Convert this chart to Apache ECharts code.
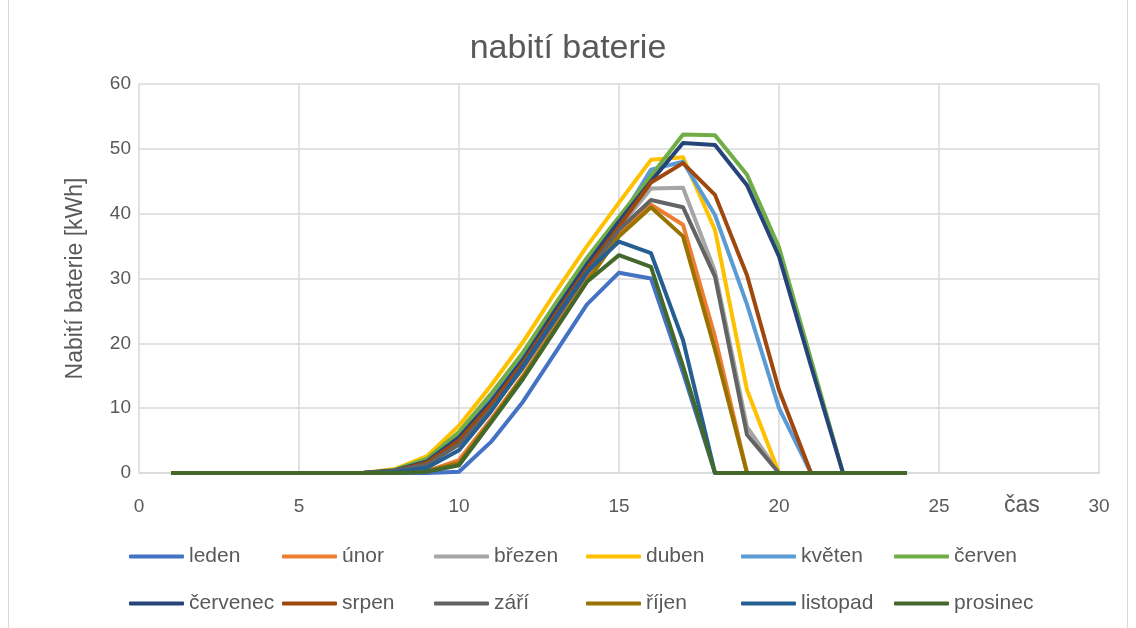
<!DOCTYPE html>
<html>
<head>
<meta charset="utf-8">
<script src="https://cdn.jsdelivr.net/npm/echarts@6/dist/echarts.min.js"></script>
<style>
  html, body { margin: 0; padding: 0; background: #ffffff; }
  #chart { width: 1136px; height: 628px; }
</style>
</head>
<body>
<div id="chart"></div>
<script>
// Hours of the day (x values)
const hours = [1,2,3,4,5,6,7,8,9,10,11,12,13,14,15,16,17,18,19,20,21,22,23,24];

// Battery charge per hour [kWh], one array per month
const leden     = [0,0,0,0,0,0,0,0,0,0.2,4.8,11,18.5,26,30.9,30,15.5,0,0,0,0,0,0,0];
const unor      = [0,0,0,0,0,0,0,0.1,0.3,2,8.3,15,22.5,30,37,41.4,38.3,21,0,0,0,0,0,0];
const brezen    = [0,0,0,0,0,0,0,0.3,1.5,4.6,10,16.5,23.8,31,37.8,43.9,44,31.1,7.1,0,0,0,0,0];
const duben     = [0,0,0,0,0,0,0,0.6,2.6,7.3,13.5,20.2,27.8,35,41.7,48.3,48.7,37.5,12.8,0,0,0,0,0];
const kveten    = [0,0,0,0,0,0,0,0.4,2,5.8,11.5,18,25.3,32.5,38.8,46.8,48,39.8,26,10,0,0,0,0];
const cerven    = [0,0,0,0,0,0,0,0.5,2.2,6.3,12.2,18.6,26,33.2,39.5,45.8,52.2,52.1,46,34.8,17.5,0,0,0];
const cervenec  = [0,0,0,0,0,0,0,0.4,1.8,5.5,11,17.5,25,32.2,38.8,45,50.9,50.6,44.4,33.4,16.5,0,0,0];
const srpen     = [0,0,0,0,0,0,0,0.3,1.6,5,10.5,17,24.3,31.5,38,44.8,47.8,42.9,30.5,12.8,0,0,0,0];
const zari      = [0,0,0,0,0,0,0,0.3,1.3,4.4,9.8,16.2,23.5,30.8,37.5,42.1,41,30.3,5.9,0,0,0,0,0];
const rijen     = [0,0,0,0,0,0,0,0.1,0.3,1.5,8,14.8,22.2,29.5,36.5,41,36.5,19,0,0,0,0,0,0];
const listopad  = [0,0,0,0,0,0,0,0.2,0.8,3.5,9.5,16.5,23.8,31,35.7,33.9,20.5,0,0,0,0,0,0,0];
const prosinec  = [0,0,0,0,0,0,0,0,0.2,1.2,7.8,14.5,22,29.5,33.6,31.8,16.5,0,0,0,0,0,0,0];

const monthNames = ['leden','únor','březen','duben','květen','červen',
                    'červenec','srpen','září','říjen','listopad','prosinec'];
const monthValues = [leden, unor, brezen, duben, kveten, cerven,
                     cervenec, srpen, zari, rijen, listopad, prosinec];
const monthColors = ['#4472C4','#ED7D31','#A5A5A5','#FFC000','#5B9BD5','#70AD47',
                     '#264478','#9E480E','#636363','#997300','#255E91','#43682B'];

const FONT = "'Liberation Sans', Arial, sans-serif";
const TXT = '#595959';

const series = monthNames.map((name, i) => ({
  name: name,
  type: 'line',
  data: hours.map((h, j) => [h, monthValues[i][j]]),
  symbol: 'none',
  lineStyle: { width: 4, color: monthColors[i], join: 'round' },
  itemStyle: { color: monthColors[i] },
  emphasis: { disabled: true },
  animation: false
}));

// Legend: two rows of six, laid out on a fixed column grid
const legendCols = [124, 277, 429, 581, 736, 889];
const legendRows = [541, 588];
const legends = monthNames.map((name, i) => ({
  data: [name],
  left: legendCols[i % 6],
  top: legendRows[Math.floor(i / 6)],
  icon: 'roundRect',
  itemWidth: 55,
  itemHeight: 4,
  selectedMode: false,
  textStyle: { fontFamily: FONT, fontSize: 21, color: TXT }
}));

const chart = echarts.init(document.getElementById('chart'), null, { renderer: 'canvas' });
chart.setOption({
  backgroundColor: '#ffffff',
  animation: false,
  title: {
    text: 'nabití baterie',
    left: 'center',
    top: 27,
    textStyle: { fontFamily: FONT, fontSize: 34, fontWeight: 'normal', color: TXT }
  },
  legend: legends,
  grid: { left: 139, right: 37, top: 84, bottom: 155, containLabel: false },
  xAxis: {
    type: 'value',
    min: 0, max: 30, interval: 5,
    axisLine: { show: true, lineStyle: { color: '#D9D9D9', width: 1.5 } },
    axisTick: { show: false },
    axisLabel: { fontFamily: FONT, fontSize: 19, color: TXT, margin: 24 },
    splitLine: { show: true, lineStyle: { color: '#D9D9D9', width: 1.5 } }
  },
  yAxis: {
    type: 'value',
    min: 0, max: 60, interval: 10,
    name: 'Nabití baterie [kWh]',
    nameLocation: 'middle',
    nameGap: 52,
    nameTextStyle: { fontFamily: FONT, fontSize: 23, color: TXT },
    axisLine: { show: false },
    axisTick: { show: false },
    axisLabel: { fontFamily: FONT, fontSize: 19, color: TXT, margin: 8 },
    splitLine: { show: true, lineStyle: { color: '#D9D9D9', width: 1.5 } }
  },
  graphic: [
    {
      type: 'text',
      left: 1004,
      top: 494,
      style: { text: 'čas', fontFamily: FONT, fontSize: 23, fill: TXT, letterSpacing: 2 },
      silent: true
    },
    {
      type: 'rect',
      shape: { x: 8.5, y: -2, width: 1119, height: 632 },
      style: { fill: 'none', stroke: '#D9D9D9', lineWidth: 1 },
      silent: true
    }
  ],
  series: series
});
</script>
</body>
</html>
